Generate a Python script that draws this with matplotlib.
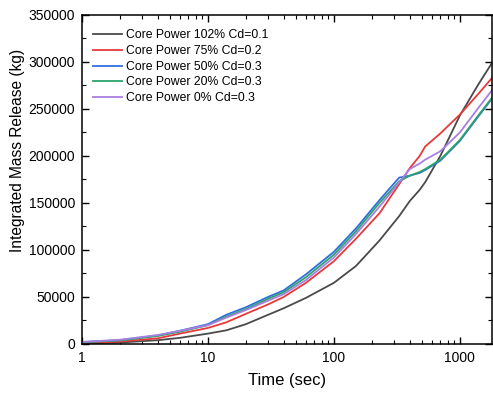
import matplotlib
matplotlib.use("Agg")
import matplotlib.pyplot as plt
from matplotlib.ticker import FixedLocator, LogLocator, MultipleLocator, NullFormatter, FuncFormatter

plt.rcParams["font.family"] = ["Liberation Sans", "DejaVu Sans"]

# ── Data ──────────────────────────────────────────────────────────────────────
time_sec = [1, 2, 4, 6, 10, 14, 20, 30, 40, 60, 100, 150, 230, 330, 400,
            480, 530, 700, 1000, 1400, 1800]

power_102 = [500, 1500, 4000, 6500, 11000, 14500, 21000, 31000, 38000, 49000,
             65000, 83000, 110000, 136000, 152000, 164000, 172000, 200000,
             243000, 276000, 299000]
power_75 = [1000, 2500, 6000, 11000, 17000, 23000, 32000, 42000, 50000, 65000,
            88000, 112000, 139000, 170000, 187000, 200000, 210000, 224000,
            244000, 266000, 283000]
power_50 = [2000, 4000, 9000, 14000, 21000, 31000, 39000, 50000, 57000, 74000,
            98000, 123000, 153000, 177000, 179000, 182000, 185000, 195000,
            216000, 242000, 261000]
power_20 = [1800, 3800, 8500, 13000, 20000, 29000, 37000, 48000, 55000, 71000,
            95000, 120000, 150000, 173000, 179000, 183000, 186000, 196000,
            217000, 243000, 262000]
power_0 = [2200, 4500, 9500, 14000, 20000, 28000, 36000, 46000, 53000, 68000,
           92000, 117000, 146000, 172000, 186000, 192000, 196000, 205000,
           225000, 251000, 270000]

series = [
    ("Core Power 102% Cd=0.1", power_102, "#4a4a4a"),
    ("Core Power 75% Cd=0.2",  power_75,  "#e8393a"),
    ("Core Power 50% Cd=0.3",  power_50,  "#2f6fdc"),
    ("Core Power 20% Cd=0.3",  power_20,  "#2ca36c"),
    ("Core Power 0% Cd=0.3",   power_0,   "#a77fe3"),
]

# ── Figure ────────────────────────────────────────────────────────────────────
fig = plt.figure(figsize=(4.93, 3.94), dpi=100)
ax = fig.add_axes([0.166, 0.127, 0.832, 0.835])

for label, values, color in series:
    ax.plot(time_sec, values, color=color, lw=1.3, label=label)

ax.set_xscale("log")
ax.set_xlim(1, 1800)
ax.set_ylim(0, 350000)

ax.xaxis.set_major_locator(FixedLocator([1, 10, 100, 1000]))
ax.xaxis.set_major_formatter(FuncFormatter(lambda v, p: f"{v:g}"))
ax.xaxis.set_minor_locator(LogLocator(base=10, subs=range(2, 10)))
ax.xaxis.set_minor_formatter(NullFormatter())
ax.yaxis.set_major_locator(MultipleLocator(50000))
ax.yaxis.set_minor_locator(MultipleLocator(25000))
ax.yaxis.set_major_formatter(FuncFormatter(lambda v, p: f"{v:.0f}"))

ax.tick_params(which="both", direction="in", top=True, right=True,
               labelsize=10, pad=5)
ax.tick_params(which="major", length=5, width=1)
ax.tick_params(which="minor", length=3, width=0.8)
for sp in ax.spines.values():
    sp.set_linewidth(1.1)

ax.set_xlabel("Time (sec)", fontsize=12, labelpad=6)
ax.set_ylabel("Integrated Mass Release (kg)", fontsize=11.2)
ax.yaxis.set_label_coords(-0.139, 0.587)

ax.legend(loc="upper left", frameon=False, fontsize=8.8, handlelength=2.4,
          handletextpad=0.33, labelspacing=0.3, borderaxespad=0,
          borderpad=0, bbox_to_anchor=(0.027, 0.956))

fig.savefig("out.png", dpi=100)
